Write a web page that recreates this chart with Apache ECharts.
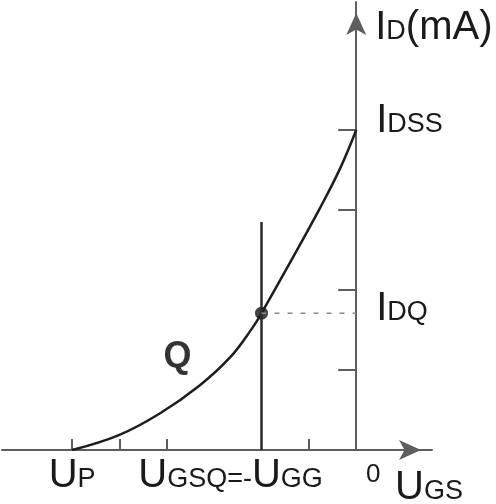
<!DOCTYPE html>
<html>
<head>
<meta charset="utf-8">
<script src="https://cdn.jsdelivr.net/npm/echarts@6/dist/echarts.min.js"></script>
<style>
  html, body { margin: 0; padding: 0; background: #fff; }
  #chart { width: 496px; height: 504px; }
</style>
</head>
<body>
<div id="chart"></div>
<script>
  // JFET transfer curve (UGS and ID in tick units)
  const curveU = [-6, -5, -4.14, -3.3, -2.66, -2.2, -2, -1.41, -0.76, -0.34, 0]
  const curveI = [0, 0.19, 0.46, 0.81, 1.16, 1.52, 1.71, 2.33, 3.03, 3.52, 4.0]
  const qPoint = [-2, 1.71]
  const biasTop = 2.85      // upper end of the -UGG line
  const xTicks = [-6, -5, -4, -1]
  const yTicks = [1, 2, 3, 4]
  const xLabelValues = [-6, -2, 0]

  const axisColor = '#5e5e5e'
  const textColor = '#1a1a1a'
  const font = 'Liberation Sans'

  const big = { fontFamily: font, fontSize: 40, color: textColor, verticalAlign: 'bottom' }
  // subscripts: small capitals sitting on the main baseline
  const sub = { fontFamily: font, fontSize: 27, color: textColor, verticalAlign: 'bottom', padding: [0, 0, 3, 0] }

  let myChart = echarts.init(document.getElementById('chart'))

  let option = {
    animation: false,
    grid: { left: 2, right: 64, top: 2, bottom: 54, containLabel: false, outerBoundsMode: 'none' },
    xAxis: {
      type: 'value',
      min: -7.48,
      max: 1.6,
      splitLine: { show: false },
      axisLine: {
        onZero: true,
        symbol: ['none', 'arrow'],
        symbolSize: [15, 22],
        symbolOffset: [0, -11],
        lineStyle: { color: axisColor, width: 2 }
      },
      axisTick: {
        show: true,
        inside: true,
        length: 11,
        customValues: xTicks,
        lineStyle: { color: axisColor, width: 2 }
      },
      axisLabel: {
        customValues: xLabelValues,
        margin: 6,
        formatter: function (v) {
          if (v === -6) return '{m|U}{s|P}'
          if (v === -2) return '{m|U}{s|GSQ}{e|=-}{m|U}{g|GG}'
          return '{z|0}'
        },
        rich: {
          m: big,
          s: sub,
          e: sub,
          g: Object.assign({}, sub, { padding: [0, 62, 3, 0] }),
          z: Object.assign({}, sub, { fontSize: 26, padding: [6, 0, 0, 34] })
        }
      },
      name: '{m|U}{s|GS}',
      nameLocation: 'end',
      nameGap: -37,
      nameMoveOverlap: false,
      nameTextStyle: {
        align: 'left',
        verticalAlign: 'top',
        padding: [18, 0, 0, 0],
        rich: { m: big, s: sub }
      }
    },
    yAxis: {
      type: 'value',
      min: 0,
      max: 5.6,
      splitLine: { show: false },
      axisLine: {
        onZero: true,
        symbol: ['none', 'arrow'],
        symbolSize: [15, 22],
        symbolOffset: [0, -11],
        lineStyle: { color: axisColor, width: 2 }
      },
      axisTick: {
        show: true,
        length: 18,
        customValues: yTicks,
        lineStyle: { color: axisColor, width: 2 }
      },
      axisLabel: { show: false },
      name: '{m|I}{s|D}{m|(mA)}',
      nameLocation: 'end',
      nameGap: -46,
      nameMoveOverlap: false,
      nameTextStyle: {
        align: 'left',
        verticalAlign: 'bottom',
        padding: [0, 0, 0, 19],
        rich: { m: big, s: sub }
      }
    },
    series: [
      {
        type: 'line',
        data: curveU.map((u, i) => [u, curveI[i]]),
        smooth: 0.4,
        showSymbol: false,
        lineStyle: { color: '#1e1e1e', width: 2.5 },
        endLabel: {
          show: true,
          formatter: '{m|I}{s|DSS}',
          distance: 20,
          offset: [0, -9],
          rich: { m: big, s: sub }
        }
      },
      {
        type: 'line',
        data: [[qPoint[0], 0], [qPoint[0], biasTop]],
        showSymbol: false,
        lineStyle: { color: '#2a2a2a', width: 2.5 }
      },
      {
        type: 'line',
        data: [qPoint, [0, qPoint[1]]],
        showSymbol: false,
        lineStyle: { color: '#8a8a8a', width: 1.5, type: [5, 8] },
        endLabel: {
          show: true,
          formatter: '{m|I}{s|DQ}',
          distance: 20,
          offset: [0, -4],
          rich: { m: big, s: sub }
        }
      },
      {
        type: 'scatter',
        data: [qPoint],
        symbolSize: 13,
        itemStyle: { color: '#111' },
        label: {
          show: true,
          formatter: 'Q',
          position: 'inside',
          offset: [-84, 44],
          fontFamily: font,
          fontWeight: 'bold',
          fontSize: 36,
          color: '#000'
        }
      }
    ]
  }
  myChart.setOption(option)
</script>
</body>
</html>
